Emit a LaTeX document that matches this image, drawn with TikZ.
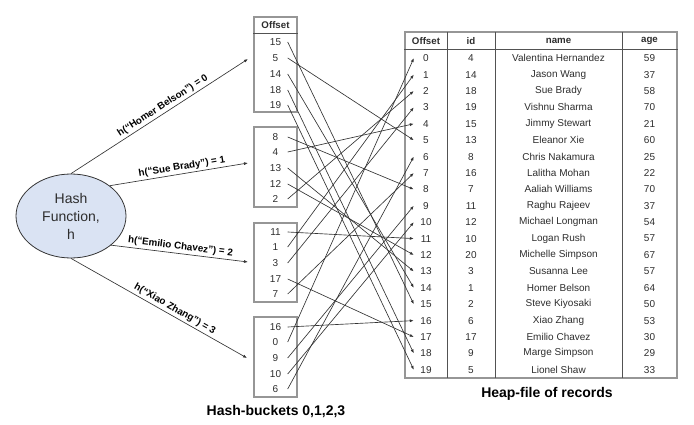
\documentclass[tikz,border=0pt]{standalone}
\usepackage{fontspec}
\setmainfont{Liberation Sans}
\usetikzlibrary{arrows.meta,positioning,shapes.geometric}
\definecolor{LineGray}{RGB}{51,51,51}
\definecolor{FrameGray}{RGB}{150,150,150}
\definecolor{HashBlue}{RGB}{218,227,243}
\definecolor{TextGray}{RGB}{45,45,45}

\begin{document}
\begin{tikzpicture}[x=1pt, y=-1pt,
    cell/.style={inner sep=0pt, minimum width=24pt, minimum height=12pt, text=TextGray,
      font=\fontsize{10}{11}\selectfont},
    headcell/.style={cell, font=\fontsize{9.7}{11}\selectfont\bfseries},
    bucketbox/.style={draw=FrameGray, line width=1.3pt, minimum width=43pt, inner sep=0pt},
    seprule/.style={draw=LineGray!85, line width=0.8pt},
    hashfn/.style={ellipse, draw=LineGray, line width=0.8pt, fill=HashBlue, align=center,
      minimum width=110pt, minimum height=84pt, inner sep=0pt, text=TextGray,
      font=\fontsize{14}{18}\selectfont},
    lbl/.style={font=\fontsize{9.8}{11}\selectfont\bfseries, text=black, sloped, above, inner sep=2pt},
    heading/.style={font=\fontsize{14}{16}\selectfont\bfseries, inner sep=0pt},
    arr/.style={-{Latex[length=4pt,width=3pt]}, line width=0.65pt, draw=LineGray}
  ]
    \useasboundingbox (0,0) rectangle (694,425);

    % hash function
    \node[hashfn] (hash) at (71,216) {Hash\\Function,\\h};
    \coordinate (in0) at (248,59);
    \coordinate (in1) at (248,163);
    \coordinate (in2) at (248,262);
    \coordinate (in3) at (247,358);
    \draw[arr] (hash.north) -- (in0) node[lbl, pos=0.54] {h(“Homer Belson”) = 0};
    \draw[arr] (hash.38) -- (in1) node[lbl, pos=0.53] {h(“Sue Brady”) = 1};
    \draw[arr] (hash.-36) -- (in2) node[lbl, pos=0.5] {h(“Emilio Chavez”) = 2};
    \draw[arr] (hash.south) -- (in3) node[lbl, pos=0.57] {h(“Xiao Zhang”) = 3};

    % hash buckets
    \node[bucketbox, minimum height=95pt] (b0) at (275.5,64.5) {};
    \node[bucketbox, minimum height=80pt] (b1) at (275.5,167) {};
    \node[bucketbox, minimum height=79pt] (b2) at (275.5,262.5) {};
    \node[bucketbox, minimum height=80pt] (b3) at (275.5,357) {};
    \node[headcell] (bhead) at (275.5,25) {Offset};
    \draw[seprule] (b0.west |- 0,33) -- (b0.east |- 0,33);
    \node[cell] (bk15) at (275.5,42) {15};
    \node[cell] (bk5) at (275.5,58) {5};
    \node[cell] (bk14) at (275.5,74) {14};
    \node[cell] (bk18) at (275.5,90) {18};
    \node[cell] (bk19) at (275.5,105) {19};
    \node[cell] (bk8) at (275.5,137) {8};
    \node[cell] (bk4) at (275.5,152) {4};
    \node[cell] (bk13) at (275.5,168) {13};
    \node[cell] (bk12) at (275.5,184) {12};
    \node[cell] (bk2) at (275.5,199) {2};
    \node[cell] (bk11) at (275.5,232) {11};
    \node[cell] (bk1) at (275.5,247) {1};
    \node[cell] (bk3) at (275.5,263) {3};
    \node[cell] (bk17) at (275.5,279) {17};
    \node[cell] (bk7) at (275.5,294) {7};
    \node[cell] (bk16) at (275.5,327) {16};
    \node[cell] (bk0) at (275.5,342) {0};
    \node[cell] (bk9) at (275.5,358) {9};
    \node[cell] (bk10) at (275.5,374) {10};
    \node[cell] (bk6) at (275.5,389) {6};
    \node[heading] (bucketcap) at (276,412) {Hash-buckets 0,1,2,3};

    % heap file
    \node[draw=FrameGray, line width=1.3pt, minimum width=272pt, minimum height=346pt, inner sep=0pt] (heap) at (541,205) {};
    \draw[seprule] (heap.west |- 0,49.5) -- (heap.east |- 0,49.5);
    \draw[seprule] (447,32) -- (447,378);
    \draw[seprule] (495,32) -- (495,378);
    \draw[seprule] (622,32) -- (622,378);
    \node[headcell] (hoff) at (426,40.7) {Offset};
    \node[headcell] (hid) at (471,40.7) {id};
    \node[headcell] (hname) at (558.5,40.7) {name};
    \node[headcell] (hage) at (649.5,40.7) {age};
    \node[cell] (off0) at (426,58.2) {0};   \node[cell] (id0) at (471,58.2) {4};   \node[cell] (nm0) at (558.5,58.2) {Valentina Hernandez}; \node[cell] (age0) at (649.5,58.2) {59};
    \node[cell] (off1) at (426,74.6) {1};   \node[cell] (id1) at (471,74.6) {14};  \node[cell] (nm1) at (558.5,74.6) {Jason Wang};          \node[cell] (age1) at (649.5,74.6) {37};
    \node[cell] (off2) at (426,91.0) {2};   \node[cell] (id2) at (471,91.0) {18};  \node[cell] (nm2) at (558.5,91.0) {Sue Brady};           \node[cell] (age2) at (649.5,91.0) {58};
    \node[cell] (off3) at (426,107.4) {3};  \node[cell] (id3) at (471,107.4) {19}; \node[cell] (nm3) at (558.5,107.4) {Vishnu Sharma};      \node[cell] (age3) at (649.5,107.4) {70};
    \node[cell] (off4) at (426,123.8) {4};  \node[cell] (id4) at (471,123.8) {15}; \node[cell] (nm4) at (558.5,123.8) {Jimmy Stewart};      \node[cell] (age4) at (649.5,123.8) {21};
    \node[cell] (off5) at (426,140.2) {5};  \node[cell] (id5) at (471,140.2) {13}; \node[cell] (nm5) at (558.5,140.2) {Eleanor Xie};        \node[cell] (age5) at (649.5,140.2) {60};
    \node[cell] (off6) at (426,156.6) {6};  \node[cell] (id6) at (471,156.6) {8};  \node[cell] (nm6) at (558.5,156.6) {Chris Nakamura};     \node[cell] (age6) at (649.5,156.6) {25};
    \node[cell] (off7) at (426,173.0) {7};  \node[cell] (id7) at (471,173.0) {16}; \node[cell] (nm7) at (558.5,173.0) {Lalitha Mohan};      \node[cell] (age7) at (649.5,173.0) {22};
    \node[cell] (off8) at (426,189.4) {8};  \node[cell] (id8) at (471,189.4) {7};  \node[cell] (nm8) at (558.5,189.4) {Aaliah Williams};    \node[cell] (age8) at (649.5,189.4) {70};
    \node[cell] (off9) at (426,205.8) {9};  \node[cell] (id9) at (471,205.8) {11}; \node[cell] (nm9) at (558.5,205.8) {Raghu Rajeev};       \node[cell] (age9) at (649.5,205.8) {37};
    \node[cell] (off10) at (426,222.2) {10}; \node[cell] (id10) at (471,222.2) {12}; \node[cell] (nm10) at (558.5,222.2) {Michael Longman}; \node[cell] (age10) at (649.5,222.2) {54};
    \node[cell] (off11) at (426,238.6) {11}; \node[cell] (id11) at (471,238.6) {10}; \node[cell] (nm11) at (558.5,238.6) {Logan Rush};      \node[cell] (age11) at (649.5,238.6) {57};
    \node[cell] (off12) at (426,255.0) {12}; \node[cell] (id12) at (471,255.0) {20}; \node[cell] (nm12) at (558.5,255.0) {Michelle Simpson}; \node[cell] (age12) at (649.5,255.0) {67};
    \node[cell] (off13) at (426,271.4) {13}; \node[cell] (id13) at (471,271.4) {3};  \node[cell] (nm13) at (558.5,271.4) {Susanna Lee};     \node[cell] (age13) at (649.5,271.4) {57};
    \node[cell] (off14) at (426,287.8) {14}; \node[cell] (id14) at (471,287.8) {1};  \node[cell] (nm14) at (558.5,287.8) {Homer Belson};    \node[cell] (age14) at (649.5,287.8) {64};
    \node[cell] (off15) at (426,304.2) {15}; \node[cell] (id15) at (471,304.2) {2};  \node[cell] (nm15) at (558.5,304.2) {Steve Kiyosaki};  \node[cell] (age15) at (649.5,304.2) {50};
    \node[cell] (off16) at (426,320.6) {16}; \node[cell] (id16) at (471,320.6) {6};  \node[cell] (nm16) at (558.5,320.6) {Xiao Zhang};      \node[cell] (age16) at (649.5,320.6) {53};
    \node[cell] (off17) at (426,337.0) {17}; \node[cell] (id17) at (471,337.0) {17}; \node[cell] (nm17) at (558.5,337.0) {Emilio Chavez};   \node[cell] (age17) at (649.5,337.0) {30};
    \node[cell] (off18) at (426,353.4) {18}; \node[cell] (id18) at (471,353.4) {9};  \node[cell] (nm18) at (558.5,353.4) {Marge Simpson};   \node[cell] (age18) at (649.5,353.4) {29};
    \node[cell] (off19) at (426,369.8) {19}; \node[cell] (id19) at (471,369.8) {5};  \node[cell] (nm19) at (558.5,369.8) {Lionel Shaw};     \node[cell] (age19) at (649.5,369.8) {33};
    \node[heading] (heapcap) at (547,394) {Heap-file of records};

    % bucket entries point at heap offsets
    \draw[arr] (bk15.east) -- (off15.west);
    \draw[arr] (bk5.east) -- (off5.west);
    \draw[arr] (bk14.east) -- (off14.west);
    \draw[arr] (bk18.east) -- (off18.west);
    \draw[arr] (bk19.east) -- (off19.west);
    \draw[arr] (bk8.east) -- (off8.west);
    \draw[arr] (bk4.east) -- (off4.west);
    \draw[arr] (bk13.east) -- (off13.west);
    \draw[arr] (bk12.east) -- (off12.west);
    \draw[arr] (bk2.east) -- (off2.west);
    \draw[arr] (bk11.east) -- (off11.west);
    \draw[arr] (bk1.east) -- (off1.west);
    \draw[arr] (bk3.east) -- (off3.west);
    \draw[arr] (bk17.east) -- (off17.west);
    \draw[arr] (bk7.east) -- (off7.west);
    \draw[arr] (bk16.east) -- (off16.west);
    \draw[arr] (bk0.east) -- (off0.west);
    \draw[arr] (bk9.east) -- (off9.west);
    \draw[arr] (bk10.east) -- (off10.west);
    \draw[arr] (bk6.east) -- (off6.west);
  \end{tikzpicture}
\end{document}
